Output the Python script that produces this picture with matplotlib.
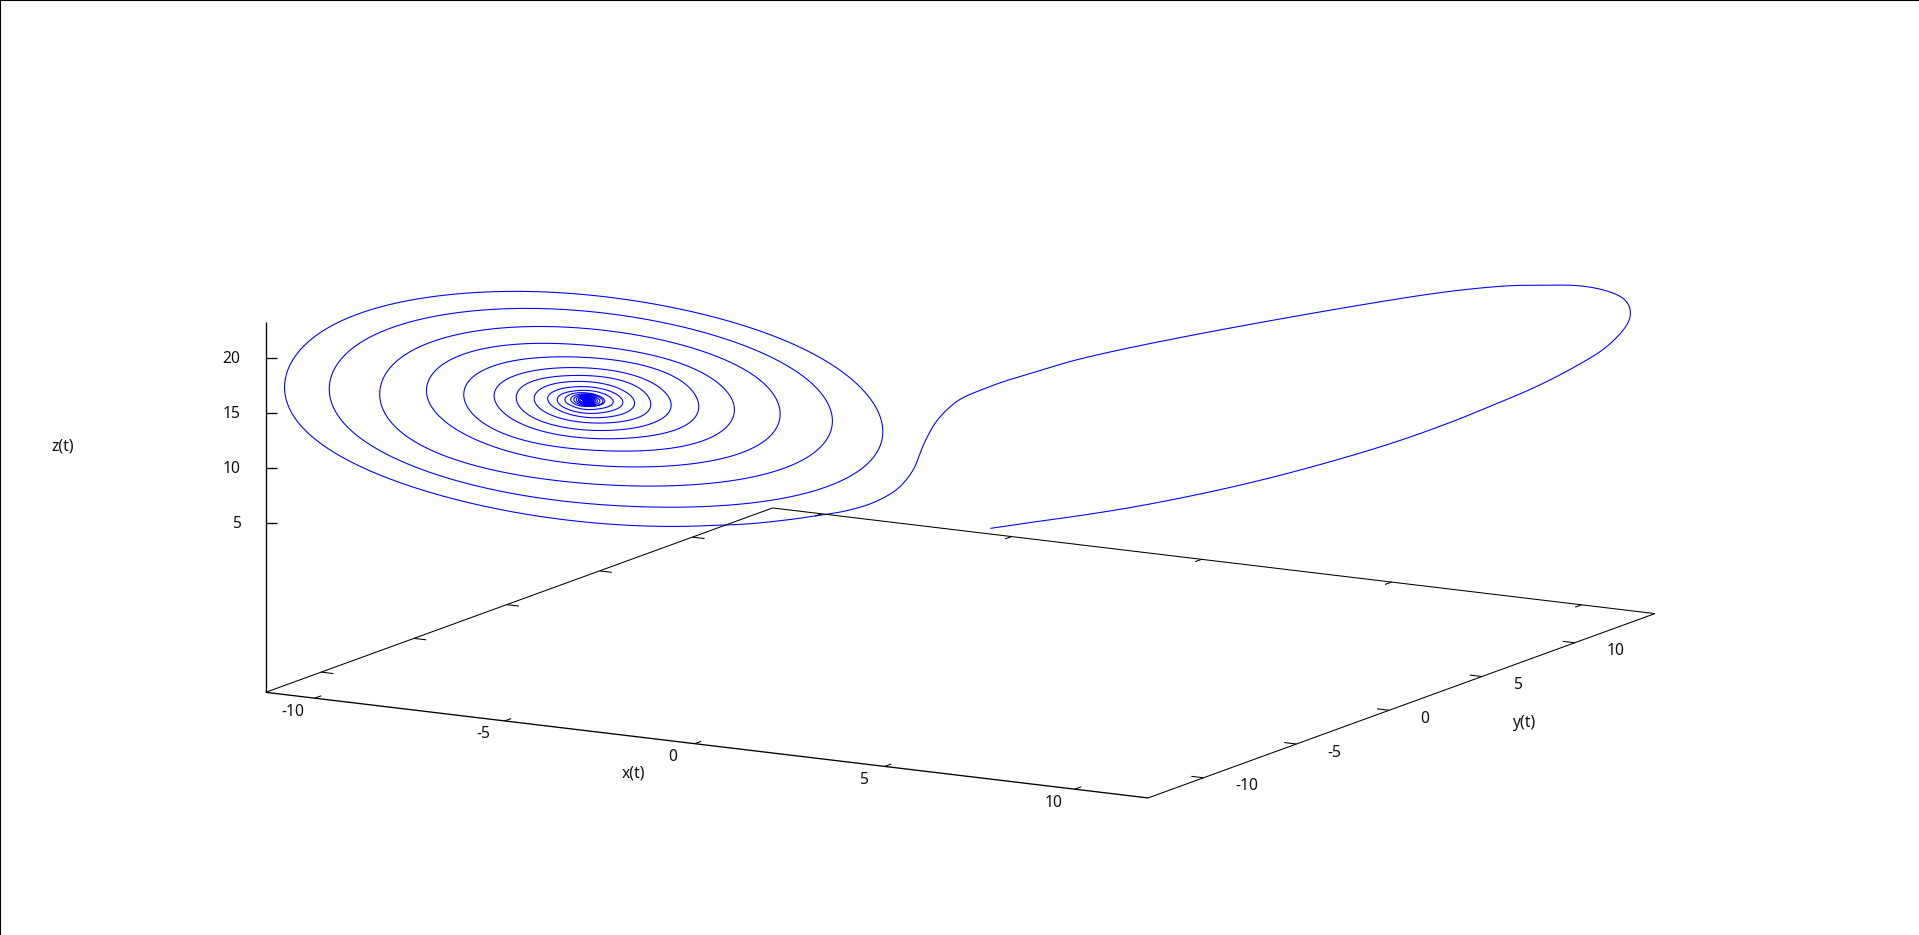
import numpy as np
import matplotlib
matplotlib.use("Agg")
import matplotlib.pyplot as plt

# ---- axis content ----
x_ticks = [-10, -5, 0, 5, 10]
y_ticks = [-10, -5, 0, 5, 10]
z_ticks = [5, 10, 15, 20]
x_range = (-11.29, 11.93)
y_range = (-12.99, 14.32)
z_floor, z_top = -10.36, 23.33

# ---- trajectory ----
# first lobe and S-bend, full-size picture coordinates
lobe_px = [(990.8,528.3),(1020,524),(1053.3,519.3),(1106.7,511.7),(1140,506),(1173.3,499.3),(1206.7,492.7),
           (1240,485),(1273.3,477.3),(1306.7,468.3),(1340,458.3),(1390,444.3),(1403.3,439.3),(1446.7,424),
           (1480,410),(1513.3,396.7),(1553.3,378.3),(1586.7,360),(1606.7,346.7),(1621.7,331.7),(1629.3,320),
           (1630.3,310),(1626.7,301.7),(1613.3,293.3),(1593.3,287.7),(1571.7,285.3),(1546.7,285.2),
           (1523.3,285.3),(1480,288.3),(1446.7,292),(1413.3,296),(1390,300.7),(1340,308.3),(1306.7,314),
           (1273.3,320.7),(1240,326),(1206.7,332.3),(1173.3,339.3),(1140,345.7),(1106.7,352.7),(1073.3,360.7),
           (1033.3,372.7),(1003.3,381.7),(976.7,391.7),(960,399.3),(946.7,410),(935,423.3),
           (928.3,435),(920,453.3),(915,466.7),(907.3,478.3),(898.3,488.3),(886.7,496),(870,504),(853.3,509),
           (833.3,513.3),(820,515),(810,516.7),(780,520.7),(746.7,524),(713.3,525.3)]
# spiral laps as (column, row) in two crops: A origin (260,270), B origin (580,270), both 3x
s_b = [(400,766),(250,766),(170,766),(100,762),(0,755)]
turn1_a = [(900,748),(800,735),(700,712),(600,690),(500,662),(400,628),(300,590),(200,540),(130,485),
           (90,420),(75,352),(90,300),(130,235),(200,175),(300,125),(400,100),(500,85),(600,72),
           (700,65),(800,64),(880,65)]
turn1_b = [(0,71),(100,85),(200,100),(300,120),(400,140),(500,170),(600,205),(700,250),(780,300),
           (850,365),(890,420),(905,470),(905,510),(890,555),(850,600),(800,630),(700,665),(600,688),
           (500,700),(400,707),(300,709),(200,709),(100,704),(0,698)]
turn2_a = [(900,690),(800,680),(700,660),(600,635),(500,600),(400,565),(300,510),(240,450),(215,390),
           (212,350),(225,300),(270,240),(350,190),(450,155),(550,135),(650,122),(750,116),(850,115)]
turn2_b = [(0,122),(100,133),(200,150),(300,170),(400,195),(500,230),(600,275),(680,325),(730,375),
           (752,430),(752,480),(735,520),(690,560),(620,595),(500,625),(400,638),(300,645),(200,647),
           (120,646),(0,638)]
turn3_a = [(900,630),(800,618),(700,600),(600,575),(500,540),(420,490),(375,420),(362,370),(375,320),
           (420,265),(500,220),(600,192),(700,176),(800,170),(900,170)]
turn3_b = [(0,176),(100,185),(200,200),(300,225),(400,255),(500,300),(560,345),(590,395),(597,435),
           (585,480),(550,520),(480,553),(400,570),(300,585),(200,590),(100,588),(0,581)]
turn4_a = [(900,575),(800,560),(700,530),(600,485),(530,430),(505,395),(500,370),(510,330),(550,280),
           (620,248),(700,230),(800,221),(900,221)]
turn4_b = [(0,226),(100,236),(200,252),(300,277),(380,315),(430,355),(460,395),(462,425),(445,465),
           (400,500),(330,525),(230,540),(130,541),(0,537)]
turn5_a = [(900,530),(800,515),(700,480),(640,430),(615,395),(612,375),(625,335),(680,295),(760,272),(860,262)]
turn5_b = [(0,263),(100,270),(200,288),(290,320),(330,360),(353,395),(355,420),(340,450),(290,480),
           (200,498),(100,505),(0,503)]
turn6_a = [(900,495),(800,470),(740,435),(710,400),(702,378),(715,345),(770,315),(860,297)]
turn6_b = [(0,294),(100,302),(180,320),(240,355),(270,390),(274,410),(255,440),(200,465),(100,480),(0,478)]
turn7_a = [(900,470),(820,445),(780,410),(770,382),(785,350),(840,327),(920,318)]
turn7_b = [(0,317),(80,322),(150,338),(195,370),(211,400),(200,430),(150,450),(80,458),(0,456)]
turn8_a = [(900,445),(845,420),(823,384),(845,355),(900,338)]
turn8_b = [(0,335),(70,340),(125,360),(160,385),(163,400),(150,422),(100,438),(0,440)]
turn9_a = [(920,430),(880,410),(862,386),(880,365),(930,352)]
turn9_b = [(0,350),(60,355),(105,370),(128,392),(120,412),(80,425),(0,428)]
turn10_a = [(930,420),(900,405),(892,388),(905,372),(950,363)]
turn10_b = [(0,361),(50,365),(85,378),(100,393),(90,408),(55,416),(0,417)]
turn11_a = [(945,410),(920,400),(915,388),(925,376),(960,368)]
turn11_b = [(0,368),(40,372),(65,382),(75,392),(65,403),(35,408),(0,408)]
# innermost rings, full-size picture coordinates
core_px = [(571,398.4),(587,394.1),(603,401.6),(587,405.9),(574,398.7),(587,395.2),(600,401.3),(587,404.8),
           (576.5,399),(587,396.1),(597.5,401),(587,403.9),(578.5,399.2),(587,396.9),(595.5,400.8),(587,403.1),
           (580,399.3),(587,397.4),(594,400.7),(587,402.6),(581,398.5),(587,395.2),(593,401.5),(587,404.8),
           (582,398.8),(587,396),(592,401.2),(587,404),(583,399),(587,396.8),(591,401),(587,403.2),
           (584,399.3),(587,397.6),(590,400.7),(587,402.4),(585,399.5),(587,398.4),(589,400.5),(587,401.6),
           (586,399.8),(587,399.2),(588,400.2),(587,400)]

AX, AY, BX, BY = 260, 270, 580, 270


def from_a(p):
    return [(AX + c / 3, AY + r / 3) for c, r in p]


def from_b(p):
    return [(BX + c / 3, BY + r / 3) for c, r in p]


spiral_read = from_b(s_b)
for a, b in [(turn1_a, turn1_b), (turn2_a, turn2_b), (turn3_a, turn3_b), (turn4_a, turn4_b),
             (turn5_a, turn5_b), (turn6_a, turn6_b), (turn7_a, turn7_b), (turn8_a, turn8_b),
             (turn9_a, turn9_b), (turn10_a, turn10_b), (turn11_a, turn11_b)]:
    spiral_read += from_a(a) + from_b(b)
spiral_read += core_px[:20]
core_read = core_px[20:]


def low_bias(a, s):
    """Gaussian smoothing with the second-order shrinkage taken back out; ends stay fixed."""
    w = int(4 * s) + 1
    k = np.exp(-0.5 * (np.arange(-w, w + 1) / s) ** 2)
    k /= k.sum()

    def g(b):
        n = min(w, len(b) - 1)
        e = np.concatenate([2 * b[0] - b[n:0:-1], b, 2 * b[-1] - b[-2:-n - 2:-1]])
        return np.convolve(e, k, mode="same")[n:n + len(b)]

    first = g(a)
    return 2 * first - g(first)


def ramp(v, lo, hi):
    t = np.clip((v - lo) / (hi - lo), 0, 1)
    return t * t * (3 - 2 * t)


def draw_lobe(points, sig=7.0, sig_flank=48.0):
    """Natural cubic spline through the read points; the long flanks are ironed harder than the bends."""
    p = np.array(points, dtype=float)
    s = np.r_[0, np.cumsum(np.hypot(*np.diff(p, axis=0).T))]
    h = np.diff(s)
    n = len(s)
    M = np.zeros((n, n))
    M[0, 0] = M[-1, -1] = 1
    for i in range(1, n - 1):
        M[i, i - 1], M[i, i], M[i, i + 1] = h[i - 1], 2 * (h[i - 1] + h[i]), h[i]
    t = np.arange(0, s[-1], 1.0)
    j = np.clip(np.searchsorted(s, t, side="right") - 1, 0, n - 2)
    raw = []
    for c in (p[:, 0], p[:, 1]):
        rhs = np.zeros(n)
        rhs[1:-1] = 6 * ((c[2:] - c[1:-1]) / h[1:] - (c[1:-1] - c[:-2]) / h[:-1])
        m = np.linalg.solve(M, rhs)
        a, b = (s[j + 1] - t) / h[j], (t - s[j]) / h[j]
        raw.append(a * c[j] + b * c[j + 1] + ((a ** 3 - a) * m[j] + (b ** 3 - b) * m[j + 1]) * h[j] ** 2 / 6)
    u, v = raw
    w = ramp(u, 1040, 1110) * (1 - ramp(u, 1440, 1530))
    return np.c_[(1 - w) * low_bias(u, sig) + w * low_bias(u, sig_flank),
                 (1 - w) * low_bias(v, sig) + w * low_bias(v, sig_flank)]


def draw_spiral(points, cu=587.0, cv=400.5, tilt=0.08, squash=0.39):
    """Draws the spiral in log-radius against turning angle, which irons out reading noise."""
    p = np.array(points, dtype=float)
    du = p[:, 0] - cu
    dv = (p[:, 1] - cv - tilt * du) / squash
    th = np.maximum.accumulate(np.unwrap(np.arctan2(dv, du)))
    th = th + np.arange(len(th)) * 1e-6
    lr = np.log(np.hypot(du, dv))
    g = np.arange(th[0], th[-1], 0.01)
    r = np.exp(low_bias(np.interp(g, th, lr), 32.0))
    uu = r * np.cos(g)
    vv = r * np.sin(g) * squash + tilt * uu
    return np.c_[cu + uu, cv + vv]


def draw_core(p, n=10):
    """Catmull-Rom through the read core points."""
    p = np.array(p, dtype=float)
    q = np.vstack([p[0], p, p[-1]])
    s = np.linspace(0, 1, n, endpoint=False)[:, None]
    out = []
    for i in range(1, len(q) - 2):
        p0, p1, p2, p3 = q[i - 1], q[i], q[i + 1], q[i + 2]
        out.append(0.5 * (2 * p1 + (p2 - p0) * s + (2 * p0 - 5 * p1 + 4 * p2 - p3) * s ** 2
                          + (3 * p1 - p0 - 3 * p2 + p3) * s ** 3))
    out.append(p[-1:])
    return np.vstack(out)


# ---- orthographic view of the gnuplot box ----
def project(x, y, z=z_floor):
    dx, dy, dz = x - x_range[0], y - y_range[0], z - z_floor
    return (265.7 + 38.0 * dx + 18.56 * dy,
            692.3 + 4.55 * dx - 6.75 * dy - 11.0 * dz)


fig = plt.figure(figsize=(19.19, 9.35), dpi=100, facecolor="white")
ax = fig.add_axes([0, 0, 1, 1])
ax.set_xlim(0, 1919)
ax.set_ylim(935, 0)
ax.set_xticks([])
ax.set_yticks([])
for side in ("right", "bottom"):
    ax.spines[side].set_visible(False)
for side in ("left", "top"):
    ax.spines[side].set_linewidth(1.5)
    ax.spines[side].set_color("black")

LW = 0.75
FONT = ["Noto Sans", "DejaVu Sans"]
TXT = dict(family=FONT, fontsize=11.3, color="#111111")


def seg(a, b, lw=LW):
    ax.plot([a[0], b[0]], [a[1], b[1]], color="black", lw=lw, solid_capstyle="butt", zorder=3)


x0, x1 = x_range
y0, y1 = y_range
# floor frame
seg(project(x0, y0), project(x1, y0), 0.95)
seg(project(x1, y0), project(x1, y1))
seg(project(x1, y1), project(x0, y1))
seg(project(x0, y1), project(x0, y0))
# z axis
seg(project(x0, y0), project(x0, y0, z_top), 0.95)

XT, YT = 0.35, 0.32
for t in x_ticks:
    seg(project(t, y0), project(t, y0 + XT))
    seg(project(t, y1), project(t, y1 - XT))
    u, v = project(t, y0)
    ax.text(u - 21.5, v + 13.5, str(t), ha="center", va="center", **TXT)
for t in y_ticks:
    seg(project(x1, t), project(x1 - YT, t))
    seg(project(x0, t), project(x0 + YT, t))
    u, v = project(x1, t)
    ax.text(u + 31.5, v + 8.5, str(t), ha="left", va="center", **TXT)
for t in z_ticks:
    u, v = project(x0, y0, t)
    seg((u, v), (u + 11, v), 0.95)
    ax.text(u - 25, v + 1, str(t), ha="right", va="center", **TXT)

ax.text(633, 773.3, "x(t)", ha="center", va="center", **TXT)
ax.text(1524, 723.3, "y(t)", ha="center", va="center", **TXT)
ax.text(63, 446.7, "z(t)", ha="center", va="center", **TXT)

curve = np.vstack([draw_lobe(lobe_px), draw_spiral(spiral_read), draw_core(core_read)])
ax.plot(curve[:, 0], curve[:, 1], color="#0000ff", lw=0.78, zorder=2, solid_joinstyle="round")

fig.savefig("out.png", dpi=100, facecolor="white")
